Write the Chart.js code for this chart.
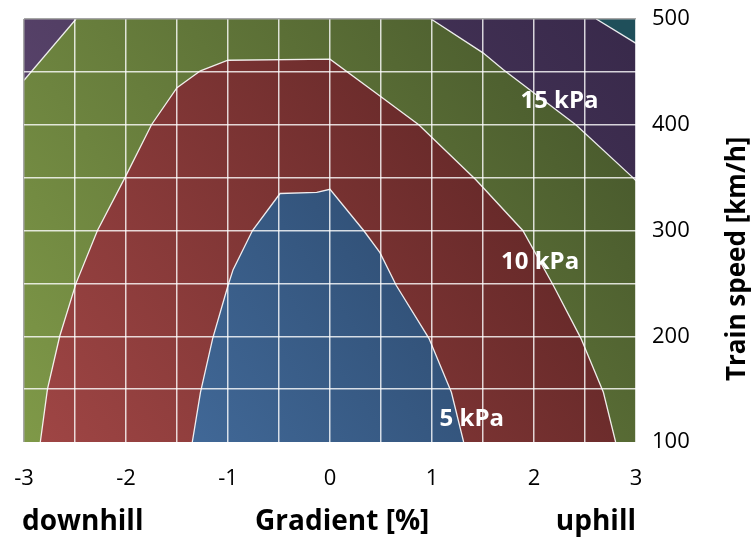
<!DOCTYPE html>
<html>
<head>
<meta charset="utf-8">
<script src="https://cdn.jsdelivr.net/npm/chart.js@4/dist/chart.umd.min.js"></script>
<style>
  html, body { margin: 0; padding: 0; background: #fff; }
  #container { width: 756px; height: 541px; }
</style>
</head>
<body>
<div id="container"><canvas id="canvas"></canvas></div>
<script>
// axis ranges and tick labels
var gradientTicks = [-3, -2, -1, 0, 1, 2, 3];
var speedTicks = [100, 200, 300, 400, 500];

// contour lines (gradient %, speed km/h)
var c5x  = [-1.35, -1.27, -1.15, -1.0, -0.95, -0.76, -0.49, -0.13, 0, 0.33, 0.49, 0.65, 0.97, 1.19, 1.31];
var c5y  = [100, 147, 198, 248, 263, 300, 335, 336, 339, 300, 279, 248, 198, 147, 100];
var c10x = [-2.84, -2.77, -2.65, -2.49, -2.28, -2.01, -1.75, -1.5, -1.27, -1.0, 0, 0.45, 0.87, 1.43, 1.89, 2.19, 2.46, 2.68, 2.80];
var c10y = [100, 150, 200, 250, 300, 350, 400, 435, 451, 461, 462, 430, 400, 348, 300, 248, 198, 147, 100];
var c15Lx = [-2.49, -3];
var c15Ly = [500, 442];
var c15Rx = [0.99, 1.5, 1.7, 2.41, 2.97, 3];
var c15Ry = [500, 468, 452, 400, 350, 347];
var c20x = [2.61, 3];
var c20y = [500, 477];

// contour labels
var labelText = ['15 kPa', '10 kPa', '5 kPa'];
var labelX = [2.25, 2.06, 1.39];
var labelY = [422, 270, 122];

function pts(xs, ys) {
    return xs.map(function(x, i){ return {x: x, y: ys[i]}; });
}

function grad(light, dark) {
    return function(c) {
        var a = c.chart.chartArea;
        if (!a) return light;
        var g = c.chart.ctx.createLinearGradient(a.left, a.bottom, a.right, a.top);
        g.addColorStop(0, light);
        g.addColorStop(1, dark);
        return g;
    };
}

function area(data, bg, order) {
    return { data: data, showLine: true, fill: 'shape', backgroundColor: bg,
             borderWidth: 0, pointRadius: 0, tension: 0, order: order };
}
function contour(data) {
    return { data: data, showLine: true, fill: false, borderColor: 'rgba(255,255,255,0.9)',
             borderWidth: 1.3, pointRadius: 0, tension: 0, order: 1 };
}

var xMin = gradientTicks[0], xMax = gradientTicks[gradientTicks.length - 1];
var yMin = speedTicks[0], yMax = speedTicks[speedTicks.length - 1];

var datasets = [
    area(pts([xMin, xMax, xMax, xMin], [yMin, yMin, yMax, yMax]), grad('#7f9948', '#43532a'), 10),
    area(pts([xMin].concat(c15Lx), [yMax].concat(c15Ly)), grad('#614a74', '#3a2b4a'), 9),
    area(pts(c15Rx.concat([xMax]), c15Ry.concat([yMax])), grad('#5c4670', '#38294a'), 9),
    area(pts(c20x.concat([xMax]), c20y.concat([yMax])), '#1f4f5a', 8),
    area(pts(c10x, c10y), grad('#a04645', '#521f1f'), 7),
    area(pts(c5x, c5y), grad('#4873a6', '#203754'), 6),
    contour(pts(c15Lx, c15Ly)),
    contour(pts(c15Rx, c15Ry)),
    contour(pts(c20x, c20y)),
    contour(pts(c10x, c10y)),
    contour(pts(c5x, c5y))
];

var textPlugin = {
    id: 'texts',
    afterDraw: function(chart) {
        var ctx = chart.ctx, a = chart.chartArea;
        var xs = chart.scales.x, ys = chart.scales.y;
        ctx.save();
        ctx.fillStyle = '#ffffff';
        ctx.font = 'bold 24px "Open Sans"';
        ctx.textAlign = 'center';
        ctx.textBaseline = 'middle';
        for (var i = 0; i < labelText.length; i++) {
            ctx.fillText(labelText[i], xs.getPixelForValue(labelX[i]), ys.getPixelForValue(labelY[i]));
        }
        ctx.fillStyle = '#000000';
        ctx.font = 'bold 28px "Open Sans"';
        ctx.textAlign = 'left';
        ctx.fillText('downhill', a.left - 2, 522);
        ctx.textAlign = 'center';
        ctx.fillText('Gradient [%]', a.left + (a.right - a.left) * 0.52, 522);
        ctx.textAlign = 'right';
        ctx.fillText('uphill', a.right, 522);
        ctx.font = 'bold 26px "Open Sans"';
        ctx.translate(738, a.top + (a.bottom - a.top) * 0.567);
        ctx.rotate(-Math.PI / 2);
        ctx.textAlign = 'center';
        ctx.fillText('Train speed [km/h]', 0, 0);
        ctx.restore();
    }
};

function gridColor(edgeValue, hideValue) {
    return function(c) {
        if (!c.tick) return 'rgba(255,255,255,0.8)';
        if (c.tick.value === edgeValue) return '#a6a6a6';
        if (c.tick.value === hideValue) return 'rgba(0,0,0,0)';
        return 'rgba(255,255,255,0.8)';
    };
}

// keep tick labels from pushing the plot area inwards
function noOverflow(s) {
    s.paddingLeft = 0; s.paddingRight = 0; s.paddingTop = 0; s.paddingBottom = 0;
}

var config = {
    type: 'scatter',
    data: { datasets: datasets },
    options: {
        responsive: true,
        maintainAspectRatio: false,
        animation: false,
        layout: { padding: { left: 24, top: 19, right: 0, bottom: 0 } },
        plugins: { legend: { display: false }, tooltip: { enabled: false } },
        scales: {
            x: {
                type: 'linear', min: xMin, max: xMax,
                afterFit: function(s){ s.height = 99; noOverflow(s); },
                border: { display: false },
                grid: { z: 1, drawTicks: false, lineWidth: 1.5, color: gridColor(xMin, null) },
                ticks: {
                    stepSize: 0.5, autoSkip: false, maxRotation: 0, padding: 24,
                    color: '#000', font: { family: 'Open Sans', size: 22 },
                    callback: function(v){ return gradientTicks.indexOf(v) >= 0 ? String(v) : ''; }
                }
            },
            y: {
                type: 'linear', position: 'right', min: yMin, max: yMax,
                afterFit: function(s){ s.width = 120; noOverflow(s); },
                border: { display: false },
                grid: { z: 1, drawTicks: false, lineWidth: 1.5, color: gridColor(yMax, yMin) },
                ticks: {
                    stepSize: 50, autoSkip: false, padding: 16,
                    color: '#000', font: { family: 'Open Sans', size: 22 },
                    callback: function(v){ return speedTicks.indexOf(v) >= 0 ? String(v) : ''; }
                }
            }
        }
    },
    plugins: [textPlugin]
};

var context = document.getElementById('canvas').getContext('2d');
window.myChart = new Chart(context, config);
</script>
</body>
</html>
